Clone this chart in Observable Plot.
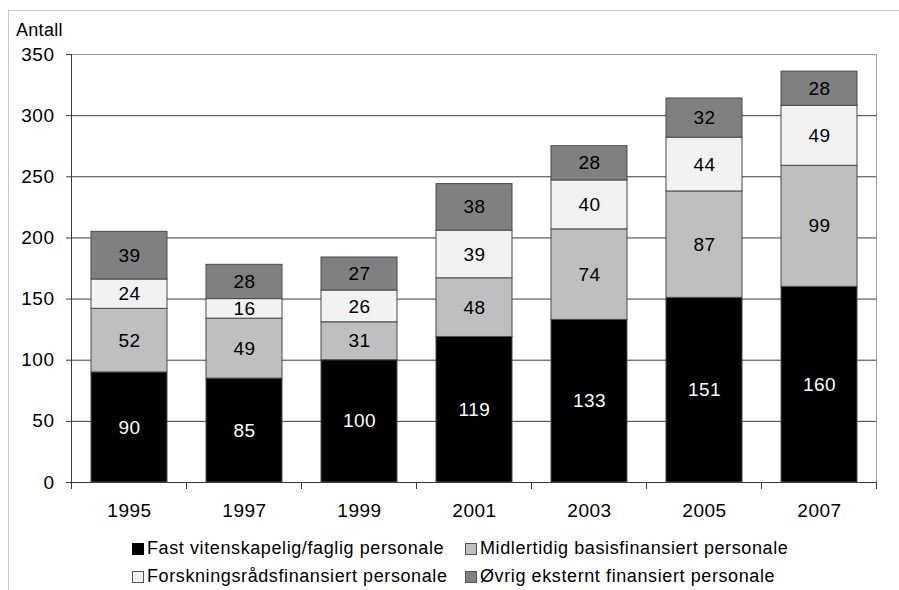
<!DOCTYPE html>
<html>
<head>
<meta charset="utf-8">
<script src="https://cdn.jsdelivr.net/npm/d3@7"></script>
<script src="https://cdn.jsdelivr.net/npm/@observablehq/plot@0.6"></script>
<style>
  html, body { margin: 0; padding: 0; background: #fff; }
  #wrap { position: relative; width: 899px; height: 590px; overflow: hidden; font-family: "Liberation Sans", Arial, sans-serif; }
  #border { position: absolute; left: 8px; top: 10px; right: -2px; bottom: -2px; border-top: 1px solid #c8c8c8; border-left: 1px solid #c8c8c8; }
  #ylabel { position: absolute; left: 16px; top: 20px; font-size: 18px; letter-spacing: 0.3px; color: #000; }
  .leg { position: absolute; font-size: 18px; letter-spacing: 0.6px; color: #000; white-space: nowrap; line-height: 20px; }
  .sw { position: absolute; width: 10px; height: 10px; border: 1px solid #555; }
  svg { position: absolute; left: 0; top: 0; }
  svg text { font-size: 19px; letter-spacing: 0.5px; }
</style>
</head>
<body>
<div id="wrap">
  <div id="border"></div>
  <div id="ylabel">Antall</div>
</div>
<script>
const years = ["1995", "1997", "1999", "2001", "2003", "2005", "2007"];
const seriesNames = [
  "Fast vitenskapelig/faglig personale",
  "Midlertidig basisfinansiert personale",
  "Forskningsrådsfinansiert personale",
  "Øvrig eksternt finansiert personale"
];
const fast  = [90, 85, 100, 119, 133, 151, 160];
const midl  = [52, 49, 31, 48, 74, 87, 99];
const forsk = [24, 16, 26, 39, 40, 44, 49];
const ovrig = [39, 28, 27, 38, 28, 32, 28];
const yTicks = [0, 50, 100, 150, 200, 250, 300, 350];
const colors = ["#000000", "#bfbfbf", "#f2f2f2", "#808080"];

const seriesValues = [fast, midl, forsk, ovrig];
const data = [];
years.forEach((yr, i) => {
  seriesNames.forEach((s, j) => data.push({year: yr, series: s, value: seriesValues[j][i]}));
});

const W = 899, H = 590;
const mL = 71, mR = 23, mT = 54, mB = 108;

const plot = Plot.plot({
  width: W,
  height: H,
  marginLeft: mL,
  marginRight: mR,
  marginTop: mT,
  marginBottom: mB,
  style: {fontFamily: "'Liberation Sans', Arial, sans-serif", fontSize: "19px", color: "#000", background: "transparent", overflow: "visible"},
  x: {type: "band", domain: years, paddingInner: 0.34, paddingOuter: 0.17, align: 0.5, label: null},
  y: {domain: [0, 350], label: null},
  color: {domain: seriesNames, range: colors},
  marks: [
    Plot.frame({stroke: "#9a9a9a"}),
    Plot.ruleY(yTicks.filter(d => d > 0 && d < 350), {stroke: "#3c3c3c", strokeWidth: 1}),
    Plot.barY(data, {x: "year", y: "value", fill: "series", stroke: "#4a4a4a", strokeWidth: 1, order: seriesNames}),
    Plot.text(data.filter(d => d.series === seriesNames[0]), Plot.stackY({x: "year", y: "value", text: d => String(d.value), fill: "white", fontSize: 19})),
    Plot.text(data, Plot.stackY({x: "year", y: "value", text: d => d.series === seriesNames[0] ? "" : String(d.value), fill: "black", fontSize: 19})),
    Plot.ruleY([0], {stroke: "#3c3c3c"}),
    Plot.axisY({ticks: yTicks, tickSize: 5, tickPadding: 12, fontSize: 19, stroke: "#3c3c3c"}),
    Plot.axisX({tickSize: 0, tickPadding: 21, fontSize: 19})
  ]
});

const wrap = document.getElementById("wrap");
wrap.appendChild(plot);

// Left axis line and category-boundary tick marks drawn with the plot's scales
const xs = plot.scale("x");
const ys = plot.scale("y");
const svg = d3.select(plot);
const step = xs.step;
const x0 = xs.apply(years[0]) - (step - xs.bandwidth) / 2;
const g = svg.append("g").attr("stroke", "#3c3c3c").attr("shape-rendering", "crispEdges");
g.append("line")
  .attr("x1", x0).attr("x2", x0)
  .attr("y1", ys.apply(0)).attr("y2", ys.apply(350));
for (let k = 0; k <= years.length; k++) {
  const xx = x0 + k * step;
  g.append("line").attr("x1", xx).attr("x2", xx)
    .attr("y1", ys.apply(0)).attr("y2", ys.apply(0) + 7);
}

// Legend (two rows, two columns)
const legPos = [[132, 543], [465, 543], [132, 571], [465, 571]];
seriesNames.forEach((s, j) => {
  const [lx, ly] = legPos[j];
  const sw = document.createElement("div");
  sw.className = "sw";
  sw.style.left = lx + "px";
  sw.style.top = ly + "px";
  sw.style.background = colors[j];
  if (j === 0) sw.style.borderColor = "#000";
  wrap.appendChild(sw);
  const t = document.createElement("div");
  t.className = "leg";
  t.textContent = s;
  t.style.left = (lx + 15) + "px";
  t.style.top = (ly - 5) + "px";
  wrap.appendChild(t);
});
</script>
</body>
</html>
